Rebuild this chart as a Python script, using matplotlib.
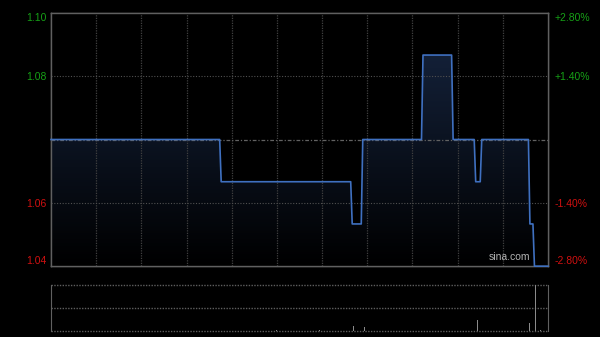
import numpy as np
import matplotlib
matplotlib.use("Agg")
import matplotlib.pyplot as plt
from matplotlib.patches import Polygon

plt.rcParams['font.family'] = ['Liberation Sans', 'DejaVu Sans']

# 分時データ（取引開始からの分数, 価格）
times = [0, 112, 113, 199, 200, 206, 207, 246, 247, 266, 267,
         281, 282, 285, 286, 317, 318, 320, 321, 330]
prices = [1.07, 1.07, 1.06, 1.06, 1.05, 1.05, 1.07, 1.07, 1.09, 1.09, 1.07,
          1.07, 1.06, 1.06, 1.07, 1.07, 1.05, 1.05, 1.04, 1.04]

# 出来高
vol_times = [150, 178, 201, 208, 243, 283, 318, 322, 324, 325]
volumes = [2000, 2000, 10000, 8000, 6000, 22000, 16000, 92000, 4000, 2000]

prev_close = 1.07
pct_range = 0.028
left_labels = ["1.10", "1.08", "1.06", "1.04"]
right_labels = ["+2.80%", "+1.40%", "-1.40%", "-2.80%"]
label_colors = ["#16a016", "#16a016", "#d01010", "#d01010"]

fig = plt.figure(figsize=(6, 3.37), dpi=100)
fig.patch.set_facecolor("black")

ax = fig.add_axes([51 / 600, 1 - 266 / 337, 497 / 600, 253 / 337])
ax.set_facecolor("black")
ymin = prev_close * (1 - pct_range)
ymax = prev_close * (1 + pct_range)
ax.set_xlim(0, 330)
ax.set_ylim(ymin, ymax)

# 塗りつぶし（グラデーション）
grad = np.linspace(0, 1, 256).reshape(-1, 1)
cols = np.zeros((256, 1, 4))
cols[:, 0, 0] = 0.09 * grad[:, 0]
cols[:, 0, 1] = 0.15 * grad[:, 0]
cols[:, 0, 2] = 0.26 * grad[:, 0]
cols[:, 0, 3] = 1
img = ax.imshow(cols, extent=[0, 330, ymin, ymax], origin="lower",
                aspect="auto", zorder=1)
poly = Polygon(list(zip(times, prices)) + [(times[-1], ymin), (times[0], ymin)],
               closed=True, facecolor="none", edgecolor="none")
ax.add_patch(poly)
img.set_clip_path(poly)

# グリッド
for m in range(30, 330, 30):
    ax.axvline(m, color="#404040", lw=0.9, ls=(0, (1, 1)), zorder=2)
for p in [prev_close * (1 + pct_range / 2), prev_close * (1 - pct_range / 2)]:
    ax.axhline(p, color="#505050", lw=0.8, ls=(0, (1, 1.5)), zorder=2)
ax.axhline(prev_close, color="#626262", lw=0.9, ls=(0, (3, 1.5, 1, 1.5)), zorder=2)

ax.plot(times, prices, color="#3f70c0", lw=1.2, zorder=4, clip_on=False)

tick_vals = [ymax, prev_close * (1 + pct_range / 2),
             prev_close * (1 - pct_range / 2), ymin]
ax.set_yticks(tick_vals)
ax.set_yticklabels(left_labels, fontsize=7.5)
ax.set_xticks([])
ax.tick_params(axis="y", length=0, pad=3)
for lab, c in zip(ax.get_yticklabels(), label_colors):
    lab.set_color(c)
ax.get_yticklabels()[0].set_va("top")
ax.get_yticklabels()[-1].set_va("bottom")

ax2 = ax.twinx()
ax2.set_ylim(ymin, ymax)
ax2.set_yticks(tick_vals)
ax2.set_yticklabels(right_labels, fontsize=7.5)
ax2.tick_params(axis="y", length=0, pad=5)
for lab, c in zip(ax2.get_yticklabels(), label_colors):
    lab.set_color(c)
ax2.get_yticklabels()[0].set_va("top")
ax2.get_yticklabels()[-1].set_va("bottom")

for a in (ax, ax2):
    for s in a.spines.values():
        s.set_color("#606060")
        s.set_linewidth(1)
    a.set_zorder(1)
ax.set_zorder(2)
ax.patch.set_visible(True)
ax2.patch.set_visible(False)

ax.text(0.965, 0.015, "sina.com", transform=ax.transAxes, ha="right",
        va="bottom", color="#b4b4b4", fontsize=7.5, zorder=5)

# 出来高パネル
axv = fig.add_axes([51 / 600, 1 - 331.3 / 337, 497 / 600, 46.3 / 337])
axv.set_facecolor("black")
axv.set_xlim(0, 330)
axv.set_ylim(0, max(volumes))
axv.bar(vol_times, volumes, width=0.6, color="#8a8a8a", zorder=3)
for v in [0, max(volumes) / 2, max(volumes)]:
    axv.axhline(v, color="#5e5e5e", lw=1, ls=(0, (1, 1)), zorder=2, clip_on=False)
axv.set_xticks([])
axv.set_yticks([])
for k in ["top", "bottom"]:
    axv.spines[k].set_visible(False)
for k in ["left", "right"]:
    axv.spines[k].set_color("#606060")

fig.savefig("out.png", dpi=100, facecolor="black")
